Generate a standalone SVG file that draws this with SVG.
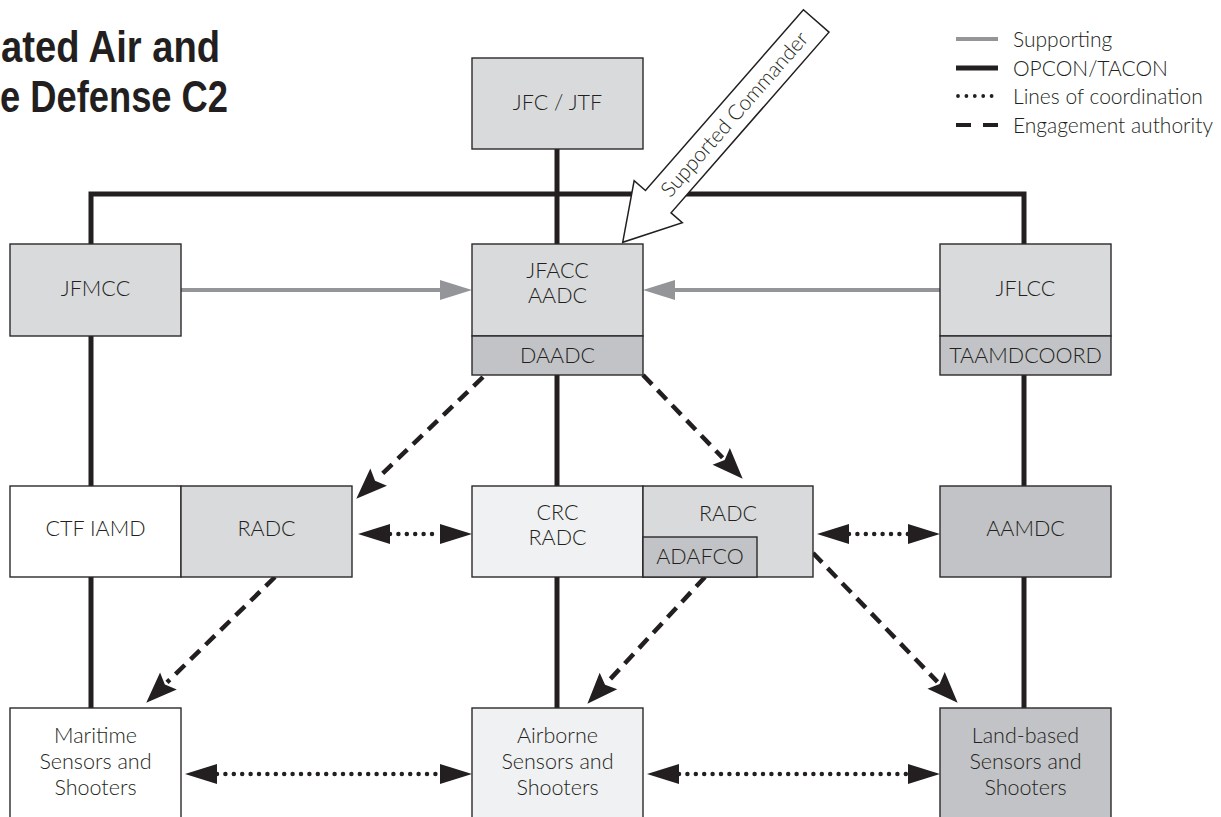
<svg xmlns="http://www.w3.org/2000/svg" width="1221" height="817" viewBox="0 0 1221 817">
  <style>
    .box { stroke: #2b2829; stroke-width: 1.4; }
    .g1 { fill: #d9dadc; }
    .g2 { fill: #c2c3c6; }
    .g0 { fill: #f0f1f3; }
    .w { fill: #ffffff; }
    .lbl { font-family: Lato, "Open Sans", "Liberation Sans", sans-serif; font-weight: 300; font-size: 21.5px; fill: #231f20; text-anchor: middle; }
    .leg { font-family: Lato, "Open Sans", "Liberation Sans", sans-serif; font-weight: 300; font-size: 21px; fill: #231f20; }
    .title { font-family: "Liberation Sans", Arial, sans-serif; font-weight: 700; font-size: 44px; fill: #231f20; }
    .opcon { fill: none; stroke: #231f20; stroke-width: 5; stroke-linejoin: miter; }
    .support { fill: none; stroke: #939598; stroke-width: 4; }
    .engage { fill: none; stroke: #231f20; stroke-width: 4.5; stroke-dasharray: 13 8; }
    .coord { fill: none; stroke: #231f20; stroke-width: 4.5; stroke-dasharray: 0 8.4; stroke-linecap: round; }
  </style>
  <defs>
    <marker id="headGray" markerUnits="userSpaceOnUse" markerWidth="40" markerHeight="30" refX="0" refY="0" viewBox="-2 -15 40 30" orient="auto">
      <path d="M32,0 L0,-10 L0,10 Z" fill="#939598"/>
    </marker>
    <marker id="headEngage" markerUnits="userSpaceOnUse" markerWidth="40" markerHeight="32" refX="0" refY="0" viewBox="-4 -16 40 32" orient="auto">
      <path d="M29,0 L-2,-12 L3,0 L-2,12 Z" fill="#231f20"/>
    </marker>
    <marker id="headCoord" markerUnits="userSpaceOnUse" markerWidth="40" markerHeight="30" refX="0" refY="0" viewBox="-2 -15 40 30" orient="auto-start-reverse">
      <path d="M32,0 L0,-10 L0,10 Z" fill="#231f20"/>
    </marker>
  </defs>

  <!-- Title (runs off the left edge) -->
  <g id="title">
    <text class="title" x="1" y="62" textLength="219" lengthAdjust="spacingAndGlyphs">ated Air and</text>
    <text class="title" x="0" y="112" textLength="228" lengthAdjust="spacingAndGlyphs">e Defense C2</text>
  </g>

  <!-- Legend -->
  <g id="legend">
    <line x1="956" y1="39" x2="998" y2="39" stroke="#939598" stroke-width="4"/>
    <line x1="956" y1="68" x2="998" y2="68" stroke="#231f20" stroke-width="5"/>
    <line x1="958" y1="96" x2="998" y2="96" stroke="#231f20" stroke-width="3.8" stroke-dasharray="0 8.4" stroke-linecap="round"/>
    <line x1="956" y1="125" x2="998" y2="125" stroke="#231f20" stroke-width="4" stroke-dasharray="15 12"/>
    <text class="leg" x="1013" y="47">Supporting</text>
    <text class="leg" x="1013" y="76">OPCON/TACON</text>
    <text class="leg" x="1013" y="104">Lines of coordination</text>
    <text class="leg" x="1013" y="133">Engagement authority</text>
  </g>

  <!-- Connectors -->
  <g id="connectors">
    <!-- OPCON/TACON trunk -->
    <path class="opcon" d="M91,708 V194 H1024 V708"/>
    <path class="opcon" d="M557,149 V708"/>
    <!-- supporting -->
    <path class="support" d="M181,290 H440" marker-end="url(#headGray)"/>
    <path class="support" d="M940,290 H675" marker-end="url(#headGray)"/>
    <!-- engagement authority -->
    <path class="engage" d="M483,377 L377.2,478.6" marker-end="url(#headEngage)"/>
    <path class="engage" d="M643,375 L722.6,457.8" marker-end="url(#headEngage)"/>
    <path class="engage" d="M275,577 L167,682.4" marker-end="url(#headEngage)"/>
    <path class="engage" d="M705,577 L607.1,682.5" marker-end="url(#headEngage)"/>
    <path class="engage" d="M813,553 L937.5,681.9" marker-end="url(#headEngage)"/>
    <!-- lines of coordination -->
    <path class="coord" d="M390,534 H440" marker-start="url(#headCoord)" marker-end="url(#headCoord)"/>
    <path class="coord" d="M849,534 H908" marker-start="url(#headCoord)" marker-end="url(#headCoord)"/>
    <path class="coord" d="M217,774 H440" marker-start="url(#headCoord)" marker-end="url(#headCoord)"/>
    <path class="coord" d="M679,774 H908" marker-start="url(#headCoord)" marker-end="url(#headCoord)"/>
  </g>

  <!-- Nodes -->
  <g id="jfc">
    <rect class="box g1" x="472" y="58" width="171" height="91"/>
    <text class="lbl" x="557.5" y="110">JFC / JTF</text>
  </g>
  <g id="jfmcc">
    <rect class="box g1" x="10" y="244" width="171" height="92"/>
    <text class="lbl" x="95.5" y="296">JFMCC</text>
  </g>
  <g id="jfacc">
    <rect class="box g1" x="472" y="244" width="171" height="92"/>
    <rect class="box g2" x="472" y="336" width="171" height="39"/>
    <text class="lbl" x="557.5" y="278">JFACC</text>
    <text class="lbl" x="557.5" y="303">AADC</text>
    <text class="lbl" x="557.5" y="363">DAADC</text>
  </g>
  <g id="jflcc">
    <rect class="box g1" x="940" y="244" width="171" height="92"/>
    <rect class="box g2" x="940" y="336" width="171" height="39"/>
    <text class="lbl" x="1025.5" y="296">JFLCC</text>
    <text class="lbl" x="1025.5" y="363">TAAMDCOORD</text>
  </g>
  <g id="ctf">
    <rect class="box w" x="10" y="486" width="171" height="91"/>
    <rect class="box g1" x="181" y="486" width="171" height="91"/>
    <text class="lbl" x="95.5" y="536">CTF IAMD</text>
    <text class="lbl" x="266.5" y="536">RADC</text>
  </g>
  <g id="crc">
    <rect class="box g0" x="472" y="486" width="171" height="91"/>
    <rect class="box g1" x="643" y="486" width="170" height="91"/>
    <rect class="box g2" x="643" y="537" width="114" height="40"/>
    <text class="lbl" x="557.5" y="520">CRC</text>
    <text class="lbl" x="557.5" y="545">RADC</text>
    <text class="lbl" x="728" y="521">RADC</text>
    <text class="lbl" x="700" y="564">ADAFCO</text>
  </g>
  <g id="aamdc">
    <rect class="box g2" x="940" y="486" width="171" height="91"/>
    <text class="lbl" x="1025.5" y="536">AAMDC</text>
  </g>
  <g id="maritime">
    <rect class="box w" x="10" y="708" width="171" height="130"/>
    <text class="lbl" x="95.5" y="743">Maritime</text>
    <text class="lbl" x="95.5" y="769">Sensors and</text>
    <text class="lbl" x="95.5" y="795">Shooters</text>
  </g>
  <g id="airborne">
    <rect class="box g0" x="472" y="708" width="171" height="130"/>
    <text class="lbl" x="557.5" y="743">Airborne</text>
    <text class="lbl" x="557.5" y="769">Sensors and</text>
    <text class="lbl" x="557.5" y="795">Shooters</text>
  </g>
  <g id="landbased">
    <rect class="box g2" x="940" y="708" width="171" height="130"/>
    <text class="lbl" x="1025.5" y="743">Land-based</text>
    <text class="lbl" x="1025.5" y="769">Sensors and</text>
    <text class="lbl" x="1025.5" y="795">Shooters</text>
  </g>

  <!-- Supported Commander callout arrow -->
  <g id="supported-commander" transform="translate(622.7,242.3) rotate(-48.84)">
    <polygon points="0,0 54,-32 54,-17 294,-17 294,17 54,17 54,32" fill="#ffffff" stroke="#231f20" stroke-width="1.5" stroke-linejoin="miter"/>
    <text class="leg" x="170" y="7" text-anchor="middle" font-size="21.5">Supported Commander</text>
  </g>
</svg>
